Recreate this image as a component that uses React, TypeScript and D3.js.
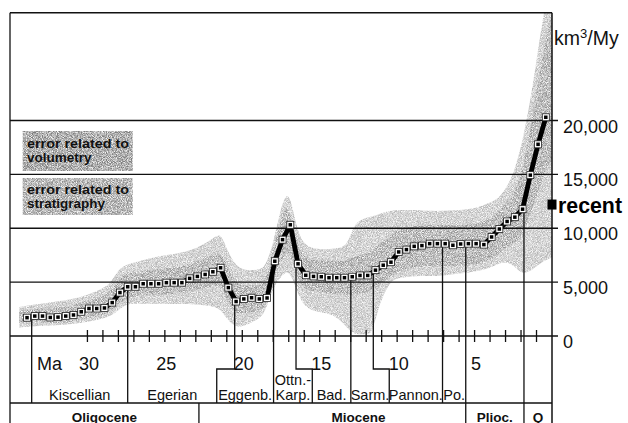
import React from 'react';
import * as d3 from 'd3';

// Sediment accumulation rate (km^3/My) sampled every 0.5 My
const ages = [33.9, 33.4, 32.9, 32.4, 31.9, 31.4, 30.9, 30.4, 29.9, 29.4, 28.9, 28.4, 27.9, 27.4, 26.9, 26.4, 25.9, 25.4, 24.9, 24.4, 23.9, 23.4, 22.9, 22.4, 21.9, 21.4, 20.9, 20.4, 19.9, 19.4, 18.9, 18.4, 17.9, 17.4, 16.9, 16.4, 15.9, 15.4, 14.9, 14.4, 13.9, 13.4, 12.9, 12.4, 11.9, 11.4, 10.9, 10.4, 9.9, 9.4, 8.9, 8.4, 7.9, 7.4, 6.9, 6.4, 5.9, 5.4, 4.9, 4.4, 3.9, 3.4, 2.9, 2.4, 1.9, 1.4, 0.9, 0.4];
const rates = [1700, 1850, 1850, 1720, 1750, 1850, 1950, 2250, 2550, 2550, 2600, 3100, 4030, 4570, 4570, 4850, 4850, 4850, 4950, 4950, 4950, 5350, 5530, 5710, 5960, 6330, 4490, 3200, 3440, 3550, 3440, 3530, 6940, 8940, 10320, 6700, 5640, 5530, 5500, 5410, 5410, 5410, 5500, 5620, 5620, 6110, 6570, 6850, 7800, 8020, 8320, 8390, 8570, 8570, 8570, 8420, 8540, 8570, 8570, 8480, 9190, 9930, 10630, 11030, 11770, 14930, 17790, 20300];
const recentRate = 12200;

// Error envelopes
const bandAges = [34.4, 33.5, 32, 31, 30, 29, 28.5, 28, 27.5, 27, 26, 25, 24, 23, 22, 21.4, 21, 20.5, 20, 19, 18.5, 18, 17.5, 17, 16.5, 16, 15, 14, 13.2, 12.8, 12, 11.6, 11.2, 10.5, 10, 9, 8, 7, 6, 5, 4, 3.5, 3, 2.5, 2, 1.5, 1, 0.5, 0];
const stratHigh = [2700, 2900, 3200, 3400, 3800, 4400, 4900, 6200, 6600, 6800, 7200, 7500, 7700, 8100, 8900, 9700, 8000, 6700, 6100, 6100, 6400, 8600, 12000, 13800, 10000, 8300, 8000, 8100, 8300, 10500, 11000, 11100, 11300, 11600, 11700, 11700, 11600, 11600, 11700, 11800, 12400, 12700, 13600, 15000, 17500, 21000, 25500, 30500, 33000];
const stratLow = [800, 900, 1000, 1100, 1300, 1600, 1850, 2400, 2950, 3000, 3000, 3000, 2960, 2960, 2800, 2500, 1600, 900, 830, 1500, 2200, 4600, 5500, 6300, 4300, 2600, 2200, 2000, 700, 150, 150, 200, 2800, 5000, 5400, 5550, 5550, 5600, 5800, 5950, 6300, 6700, 6900, 6600, 5800, 5900, 6500, 7000, 7300];
const volHigh = [2300, 2500, 2600, 2800, 3300, 3600, 4100, 5300, 5800, 5900, 6100, 6300, 6400, 6900, 7400, 7800, 6600, 5000, 4600, 4700, 4900, 8000, 11000, 12500, 8500, 7200, 7000, 6900, 7000, 7400, 7600, 7900, 8500, 9200, 9900, 10200, 10300, 10300, 10300, 10300, 10800, 11500, 12300, 13000, 14800, 18500, 22500, 27000, 30000];
const volLow = [1200, 1300, 1200, 1300, 1700, 1900, 2300, 3000, 3500, 3700, 3800, 3900, 3900, 4300, 4600, 4800, 3400, 2000, 2100, 2300, 2500, 5200, 7000, 8200, 5600, 4200, 4100, 3900, 3800, 3900, 4000, 4300, 4700, 5300, 6000, 6400, 6500, 6500, 6500, 6600, 7000, 7600, 8200, 8600, 9000, 11000, 13000, 15000, 16500];

// Axes
const rateTicks = [0, 5000, 10000, 15000, 20000];
const maLabels = [30, 25, 20, 15, 10, 5];
const maMinorTicks = [30, 29, 28, 27, 26, 25, 24, 23, 22, 21, 20, 19, 18, 17, 16, 15, 14, 13, 12, 11, 10, 9, 8, 7, 6, 5, 4, 3, 2, 1];

// Stratigraphy
const stageTopAges = [33.6, 27.4, 20.49, 17.98, 16.53, 12.99, 11.54, 7.07, 5.57, 1.81];
const stageBottomAges = [33.6, 27.4, 21.65, 17.98, 15.48, 12.99, 10.51, 7.07, 5.57, 1.81];
const stageNames = ['Kiscellian', 'Egerian', 'Eggenb.', 'Ottn.-|Karp.', 'Bad.', 'Sarm.', 'Pannon.', 'Po.'];
const epochBoundAges = [22.8, 5.57, 1.81];
const epochNames = ['Oligocene', 'Miocene', 'Plioc.', 'Q'];
const epochLabelAges = [28.9, 12.5, 3.7, 0.9];

const W = 628;
const H = 423;
const left = 10;
const right = 552;
const top = 12.75;
const zeroY = 336;
const stageBottom = 403;
const jogY = 369;
const FONT = 'Liberation Sans, Arial, Helvetica, sans-serif';

export default function App() {
  const x = d3.scaleLinear().domain([35, 0]).range([left, right]);
  const y = d3.scaleLinear().domain([0, 30000]).range([zeroY, top]);
  const curveAt = d3.scaleLinear().domain(ages).range(rates);

  const band = (hi: number[], lo: number[]) =>
    d3
      .area<number>()
      .x((a) => x(a))
      .y0((_, i) => y(lo[i]))
      .y1((_, i) => y(hi[i]))
      .curve(d3.curveBasis)(bandAges) || '';

  const linePath =
    d3
      .line<number>()
      .x((a) => x(a))
      .y((_, i) => y(rates[i]))(ages) || '';

  const fmt = d3.format(',');
  const lineColor = '#111';

  return (
    <svg
      width={W}
      height={H}
      style={{ position: 'absolute', left: 0, top: 0, background: '#fff' }}
      fontFamily={FONT}
    >
      <defs>
        <clipPath id="plot">
          <rect x={left} y={top} width={right - left} height={zeroY - top} />
        </clipPath>
        <filter id="grain" x="0" y="0" width={W} height={H} filterUnits="userSpaceOnUse">
          <feTurbulence type="fractalNoise" baseFrequency="1.2" numOctaves="1" seed="5" result="noise" />
          <feColorMatrix
            in="noise"
            type="matrix"
            values="0 0 0 0 0  0 0 0 0 0  0 0 0 0 0  2.2 0 0 0 -0.5"
            result="mask"
          />
          <feComposite in="SourceGraphic" in2="mask" operator="in" />
        </filter>
      </defs>

      {/* error bands */}
      <g clipPath="url(#plot)">
        <g filter="url(#grain)">
          <path d={band(stratHigh, stratLow)} fill="#b8b8b8" />
          <path d={band(volHigh, volLow)} fill="#949494" />
        </g>
      </g>

      {/* legend boxes */}
      <g filter="url(#grain)">
        <rect x={22.7} y={131} width={110} height={40} fill="#7c7c7c" />
        <rect x={22.7} y={178} width={110} height={37} fill="#8c8c8c" />
      </g>
      <g fontWeight="bold" fontSize={13.5} fill="#111">
        <text x={27} y={147.5} textLength={102} lengthAdjust="spacingAndGlyphs">error related to</text>
        <text x={27} y={161.5}>volumetry</text>
        <text x={27} y={193.5} textLength={102} lengthAdjust="spacingAndGlyphs">error related to</text>
        <text x={27} y={207.5}>stratigraphy</text>
      </g>

      {/* grid lines and frame */}
      {rateTicks.map((v) => (
        <g key={v}>
          <line x1={left} x2={right + 6} y1={y(v)} y2={y(v)} stroke={lineColor} strokeWidth={1.3} />
          <text x={563} y={y(v) + 12} fontSize={18} fill="#111">
            {fmt(v)}
          </text>
        </g>
      ))}
      <line x1={left} x2={right} y1={top} y2={top} stroke={lineColor} strokeWidth={1.3} />
      <line x1={left} x2={left} y1={top} y2={H} stroke={lineColor} strokeWidth={1.3} />
      <line x1={right} x2={right} y1={top} y2={H} stroke={lineColor} strokeWidth={1.5} />
      <line x1={left} x2={right} y1={stageBottom} y2={stageBottom} stroke={lineColor} strokeWidth={1.3} />

      {/* unit */}
      <text x={554} y={45} fontSize={19.5} fill="#111">
        km<tspan dy={-7} fontSize={13}>3</tspan>
        <tspan dy={7} fontSize={19.5}>/My</tspan>
      </text>

      {/* time ticks */}
      {maMinorTicks.map((t) => (
        <line key={t} x1={x(t)} x2={x(t)} y1={zeroY - 6} y2={zeroY + 6} stroke={lineColor} strokeWidth={1.3} />
      ))}
      <text x={x(33.25)} y={370} fontSize={18} fill="#111">
        Ma
      </text>
      {maLabels.map((t) => (
        <text key={t} x={x(t) + 1.5} y={370} fontSize={18} textAnchor="middle" fill="#111">
          {t}
        </text>
      ))}

      {/* stage boundaries, hanging from the curve */}
      {stageTopAges.map((a, i) => {
        const b = stageBottomAges[i];
        const end = epochBoundAges.includes(b) ? H : stageBottom;
        const d =
          a === b
            ? `M${x(a)},${y(curveAt(a))}V${end}`
            : `M${x(a)},${y(curveAt(a))}V${jogY}H${x(b)}V${end}`;
        return <path key={i} d={d} fill="none" stroke={lineColor} strokeWidth={1.3} />;
      })}
      <line x1={x(epochBoundAges[0])} x2={x(epochBoundAges[0])} y1={stageBottom} y2={H} stroke={lineColor} strokeWidth={1.3} />

      {/* stage names */}
      {stageNames.map((name, i) => {
        const cx = (x(stageBottomAges[i]) + x(stageBottomAges[i + 1])) / 2;
        const parts = name.split('|');
        if (parts.length === 2) {
          return (
            <g key={name} fontSize={14.5} textAnchor="middle" fill="#111">
              <text x={cx} y={385}>{parts[0]}</text>
              <text x={cx} y={399.5}>{parts[1]}</text>
            </g>
          );
        }
        return (
          <text key={name} x={cx} y={399.5} fontSize={14.5} textAnchor="middle" fill="#111">
            {name}
          </text>
        );
      })}

      {/* epochs */}
      {epochNames.map((name, i) => (
        <text key={name} x={x(epochLabelAges[i])} y={421.5} fontSize={13.5} fontWeight="bold" textAnchor="middle" fill="#111">
          {name}
        </text>
      ))}

      {/* rate curve */}
      <path d={linePath} fill="none" stroke="#000" strokeWidth={4.8} strokeLinejoin="round" />
      {ages.map((a, i) => (
        <g key={a}>
          <rect x={x(a) - 3.5} y={y(rates[i]) - 3.5} width={7} height={7} fill="#fff" stroke="#222" strokeWidth={0.8} />
          <rect x={x(a) - 1.75} y={y(rates[i]) - 1.75} width={3.5} height={3.5} fill="#000" />
        </g>
      ))}

      {/* recent rate */}
      <rect x={x(0) - 4.5} y={y(recentRate) - 5} width={9} height={10} fill="#000" />
      <text x={558} y={213} fontSize={22} fontWeight="bold" fill="#000" textLength={64} lengthAdjust="spacingAndGlyphs">
        recent
      </text>
    </svg>
  );
}
